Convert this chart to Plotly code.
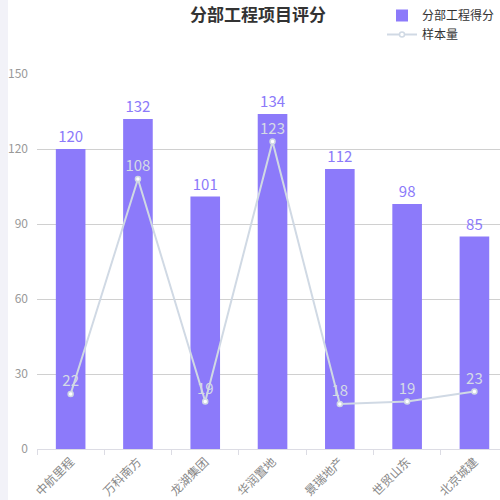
import plotly.graph_objects as go

categories = ["中航里程", "万科南方", "龙湖集团", "华润置地", "景瑞地产", "世贸山东", "北京城建"]
scores = [120, 132, 101, 134, 112, 98, 85]
samples = [22, 108, 19, 123, 18, 19, 23]
y_ticks = [0, 30, 60, 90, 120, 150]

font = "Noto Sans CJK SC"
bar_color = "#8c7afa"
line_color = "#d0d9e4"

fig = go.Figure()
fig.add_trace(go.Bar(
    x=categories, y=scores, name="分部工程得分",
    marker=dict(color=bar_color, line=dict(width=0)),
    width=0.44,
    text=scores, textposition="outside", cliponaxis=False,
    textfont=dict(color=bar_color, size=15, family=font),
))
fig.add_trace(go.Scatter(
    x=categories, y=samples, name="样本量",
    mode="lines+markers+text",
    line=dict(color=line_color, width=2),
    marker=dict(size=5, color="white", line=dict(color=line_color, width=1.5)),
    text=samples, textposition="top center", cliponaxis=False,
    textfont=dict(color="#d4dae6", size=15, family=font),
))

# light strip at the left edge
fig.add_shape(type="rect", xref="paper", yref="paper",
              x0=-37 / 463, x1=-29 / 463, y0=-51 / 375, y1=1 + 74 / 375,
              fillcolor="#f2f2f8", line=dict(width=0), layer="below")

fig.update_layout(
    width=500, height=500,
    margin=dict(l=37, r=0, t=74, b=51),
    plot_bgcolor="white", paper_bgcolor="white",
    font=dict(family=font, color="#666"),
    title=dict(text="<b>分部工程项目评分</b>", x=0.516, xanchor="center",
               y=0.97, yanchor="middle",
               font=dict(size=17, color="#333", family=font)),
    legend=dict(x=1, xanchor="right", y=1 + 73 / 375, yanchor="top",
                font=dict(size=12, color="#333", family=font),
                bgcolor="rgba(0,0,0,0)", itemwidth=30, tracegroupgap=0),
    showlegend=True,
    bargap=0.56,
)
fig.update_xaxes(
    type="category", range=[-0.5, 6.38],
    showline=True, linecolor="#dcdce4", linewidth=1,
    ticks="outside", tickson="boundaries", ticklen=5, tickcolor="#dcdce4",
    tickangle=-45, tickfont=dict(size=12, color="#888", family=font),
    showgrid=False,
)
fig.update_yaxes(
    range=[0, 150], tickvals=y_ticks, showgrid=True, gridcolor="#d0d0d0",
    gridwidth=1, zeroline=False, showline=False,
    tickfont=dict(size=12, color="#999", family=font), ticklabelstandoff=8,
)

fig.write_html("out.html", config={"displayModeBar": False},
               post_script="document.body.style.margin='0';")
